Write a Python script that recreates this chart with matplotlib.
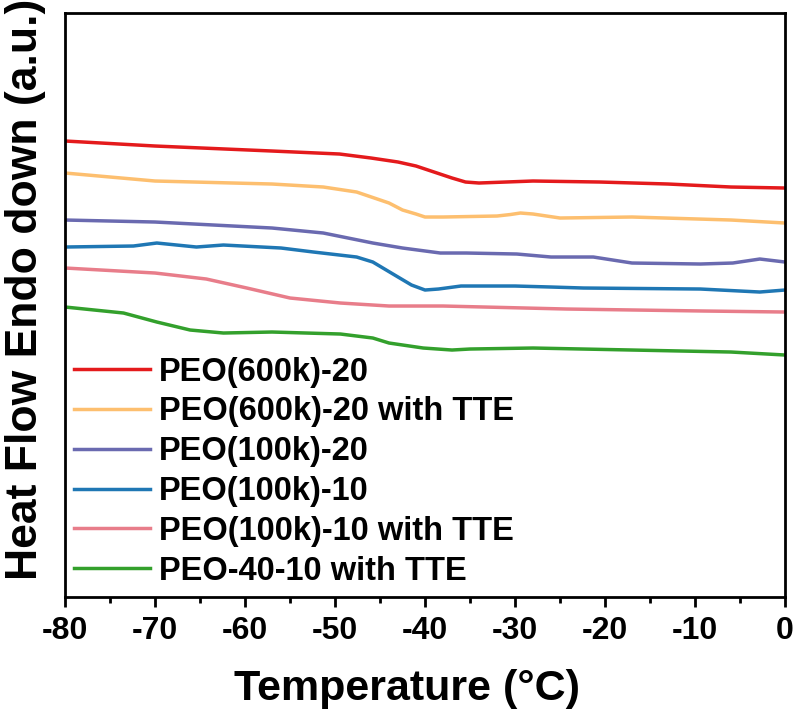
import matplotlib.pyplot as plt

plt.rcParams['font.family'] = ['Liberation Sans', 'DejaVu Sans']
plt.rcParams['font.weight'] = 'bold'
plt.rcParams['axes.unicode_minus'] = False

# temperatures (°C) and heat flow (a.u.)
t_red = [-80, -70, -57, -49.5, -46, -43, -41, -39, -37, -35.5, -34, -28, -20.6, -13, -6, 0]
hf_red = [4.59, 4.54, 4.49, 4.46, 4.42, 4.38, 4.34, 4.28, 4.22, 4.18, 4.17, 4.19, 4.18, 4.16, 4.13, 4.12]

t_orange = [-80, -70, -57, -51.3, -47.6, -44, -42.5, -41, -40, -38, -32, -30.5, -29.4, -28, -25, -17, -6, 0]
hf_orange = [4.27, 4.19, 4.16, 4.13, 4.08, 3.97, 3.90, 3.86, 3.83, 3.83, 3.84, 3.855, 3.87, 3.86, 3.82, 3.83, 3.80, 3.77]

t_purple = [-80, -70, -57, -51.3, -45.8, -42.5, -38.3, -35.4, -29.8, -26, -21.3, -17, -9.4, -5.8, -2.8, 0]
hf_purple = [3.80, 3.78, 3.72, 3.67, 3.57, 3.52, 3.47, 3.47, 3.46, 3.43, 3.43, 3.37, 3.36, 3.37, 3.41, 3.38]

t_blue = [-80, -72.4, -69.8, -65.4, -62.4, -56, -52.4, -47.6, -45.8, -43, -41.5, -40, -38.5, -36, -30, -26, -22.4, -9.4, -2.8, 0]
hf_blue = [3.53, 3.54, 3.57, 3.53, 3.55, 3.52, 3.48, 3.43, 3.38, 3.23, 3.15, 3.10, 3.11, 3.14, 3.14, 3.13, 3.12, 3.11, 3.08, 3.10]

t_pink = [-80, -70, -64.3, -59.8, -55, -49.4, -44, -38, -24.3, -9, 0]
hf_pink = [3.32, 3.27, 3.21, 3.12, 3.02, 2.97, 2.94, 2.94, 2.91, 2.89, 2.88]

t_green = [-80, -73.5, -69.8, -66.1, -62.4, -57, -49.4, -45.8, -44, -40.2, -37, -35, -28, -17, -6, 0]
hf_green = [2.93, 2.87, 2.78, 2.70, 2.67, 2.68, 2.66, 2.62, 2.57, 2.52, 2.50, 2.51, 2.52, 2.50, 2.48, 2.45]

labels = ['PEO(600k)-20', 'PEO(600k)-20 with TTE', 'PEO(100k)-20',
          'PEO(100k)-10', 'PEO(100k)-10 with TTE', 'PEO-40-10 with TTE']
colors = ['#e41a1c', '#fdbf6f', '#6a6ab0', '#1f77b4', '#e87d8a', '#33a02c']

fig = plt.figure(figsize=(7.98, 7.11), dpi=100)
ax = fig.add_axes([0.0815, 0.1603, 0.9022, 0.8214])

curves = [(t_red, hf_red), (t_orange, hf_orange), (t_purple, hf_purple),
          (t_blue, hf_blue), (t_pink, hf_pink), (t_green, hf_green)]
for (t, hf), lab, c in zip(curves, labels, colors):
    ax.plot(t, hf, color=c, lw=2.5, label=lab, solid_joinstyle='round')

ax.set_xlim(-80, 0)
ax.set_ylim(0.03, 5.87)
ax.set_xticks(range(-80, 1, 10))
ax.set_xticks(range(-75, 0, 10), minor=True)
ax.set_yticks([])
ax.tick_params(axis='x', which='major', direction='out', length=7, width=2, labelsize=23, pad=7)
ax.tick_params(axis='x', which='minor', direction='out', length=4, width=2)
for lab in ax.get_xticklabels():
    lab.set_fontweight('bold')
for s in ax.spines.values():
    s.set_linewidth(2)

ax.set_xlabel('Temperature (°C)', fontsize=31, fontweight='bold', labelpad=16)
ax.xaxis.label.set_x(0.475)
ax.set_ylabel('Heat Flow Endo down (a.u.)', fontsize=32, fontweight='bold')
ax.yaxis.set_label_coords(-0.027, 0.527)

ax.legend(loc='upper left', bbox_to_anchor=(0.004, 0.423), frameon=False, fontsize=23.5,
          handlelength=2.3, handletextpad=0.3, labelspacing=0.27, borderaxespad=0.0,
          borderpad=0.2)

fig.savefig('out.png', dpi=100)
